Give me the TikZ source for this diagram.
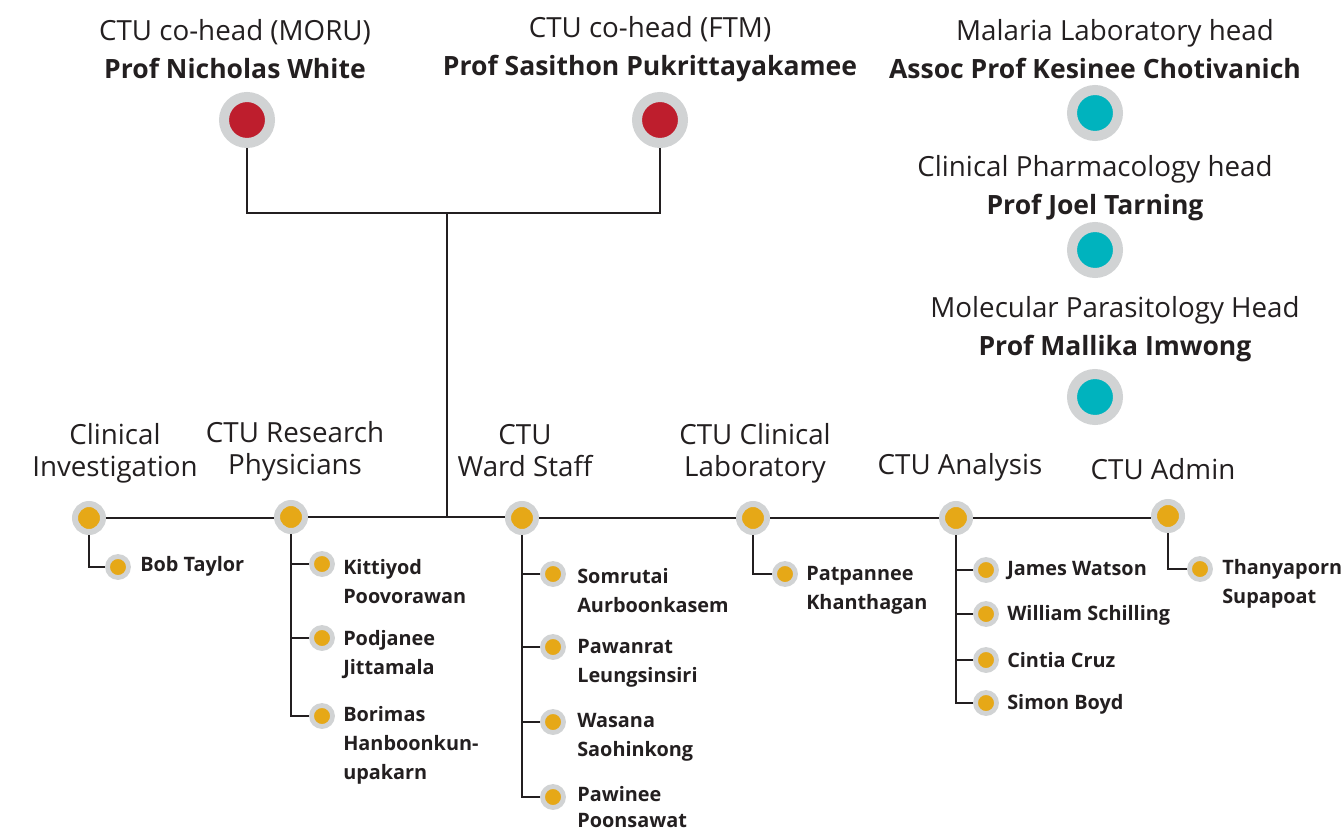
\documentclass[tikz,border=0pt]{standalone}
\usepackage{fontspec}
\setmainfont{Open Sans}
\definecolor{ring}{HTML}{D1D3D4}
\definecolor{headred}{HTML}{BE1E2D}
\definecolor{labteal}{HTML}{00B3BE}
\definecolor{teamgold}{HTML}{E6A817}
\definecolor{wire}{HTML}{231F20}
\newcommand{\leadname}[1]{{\bfseries\fontsize{19.9}{28.5}\selectfont #1}}
\begin{document}
\begin{tikzpicture}[x=0.75pt,y=-0.75pt,
  bigdot/.style={circle,inner sep=0pt,minimum size=34.5pt,draw=ring,line width=7.5pt},
  middot/.style={circle,inner sep=0pt,minimum size=21pt,draw=ring,line width=4.5pt,fill=teamgold},
  smalldot/.style={circle,inner sep=0pt,minimum size=15.75pt,draw=ring,line width=3.6pt,fill=teamgold},
  headtext/.style={align=center,inner sep=0pt,text=wire,font=\fontsize{20.8}{28.5}\selectfont},
  grouptext/.style={align=center,inner sep=0pt,text=wire,font=\fontsize{20.8}{24}\selectfont},
  nametext/.style={anchor=west,align=left,inner sep=0pt,text=wire,font=\bfseries\fontsize{14.9}{21.75}\selectfont},
  link/.style={draw=wire,line width=2.2pt}]
\useasboundingbox (0,0) rectangle (1344,834);

% leadership
\node[headtext] (t1) at (235,49) {CTU co-head (MORU)\\\leadname{Prof Nicholas White}};
\node[headtext] (t2) at (650,49) {CTU co-head (FTM)\\\leadname{Prof Sasithon Pukrittayakamee}};
\node[headtext] (t3) at (1095,49) {\hspace*{30pt}Malaria Laboratory head\\\leadname{Assoc Prof Kesinee Chotivanich}};
\node[headtext] (t4) at (1095,188.5) {Clinical Pharmacology head\\\leadname{Prof Joel Tarning}};
\node[headtext] (t5) at (1115,329) {Molecular Parasitology Head\\\leadname{Prof Mallika Imwong}};

\node[bigdot,fill=headred] (nw) at (247,120) {};
\node[bigdot,fill=headred] (sp) at (660,120) {};
\node[bigdot,fill=labteal] (kc) at (1095,113) {};
\node[bigdot,fill=labteal] (jt) at (1095,250) {};
\node[bigdot,fill=labteal] (mi) at (1095,397) {};

% teams
\node[grouptext] (g1) at (115,453) {Clinical\\Investigation};
\node[grouptext] (g2) at (295,451.5) {CTU Research\\Physicians};
\node[grouptext] (g3) at (525,450.5) {CTU\\Ward Staff};
\node[grouptext] (g4) at (755,453.5) {CTU Clinical\\Laboratory};
\node[grouptext] (g5) at (960,467) {CTU Analysis};
\node[grouptext] (g6) at (1163,469) {CTU Admin};

\node[middot] (ci) at (89,518) {};
\node[middot] (rp) at (291,517) {};
\node[middot] (ws) at (522,518) {};
\node[middot] (cl) at (753,518) {};
\node[middot] (an) at (956,518) {};
\node[middot] (ad) at (1168,516) {};

% staff
\node[smalldot] (p1) at (118,567) {};
\node[nametext] (n1) at (140,566) {Bob Taylor};

\node[smalldot] (p2) at (322,564) {};
\node[smalldot] (p3) at (322,638) {};
\node[smalldot] (p4) at (322,716) {};
\node[nametext] (n2) at (343,582) {Kittiyod\\Poovorawan};
\node[nametext] (n3) at (343,655) {Podjanee\\Jittamala};
\node[nametext] (n4) at (343,745) {Borimas\\Hanboonkun-\\upakarn};

\node[smalldot] (p5) at (553,574) {};
\node[smalldot] (p6) at (553,647) {};
\node[smalldot] (p7) at (553,722) {};
\node[smalldot] (p8) at (553,797) {};
\node[nametext] (n5) at (577,590.5) {Somrutai\\Aurboonkasem};
\node[nametext] (n6) at (577,663.5) {Pawanrat\\Leungsinsiri};
\node[nametext] (n7) at (577,737) {Wasana\\Saohinkong};
\node[nametext,font=\bfseries\fontsize{14.9}{20}\selectfont] (n8) at (577,807) {Pawinee\\Poonsawat};

\node[smalldot] (p9) at (785,574) {};
\node[nametext] (n9) at (806,590.5) {Patpannee\\Khanthagan};

\node[smalldot] (p10) at (986,570) {};
\node[smalldot] (p11) at (986,614) {};
\node[smalldot] (p12) at (986,660) {};
\node[smalldot] (p13) at (986,703) {};
\node[nametext] (n10) at (1007,570) {James Watson};
\node[nametext] (n11) at (1007,615) {William Schilling};
\node[nametext] (n12) at (1007,660) {Cintia Cruz};
\node[nametext] (n13) at (1007,704) {Simon Boyd};

\node[smalldot] (p14) at (1200,569) {};
\node[nametext] (n14) at (1222,584) {Thanyaporn\\Supapoat};

% connectors
\coordinate (join) at (447,213);
\coordinate (bus) at (447,517);
\draw[link] (nw.south) |- (join) -| (sp.south);
\draw[link] (join) -- (bus);
\draw[link] (ci.east) -- (ci.east -| rp.west);
\draw[link] (rp.east) -- (rp.east -| ws.west);
\draw[link] (ws.east) -- (cl.west);
\draw[link] (cl.east) -- (an.west);
\draw[link] (an.east) -- (an.east -| ad.west);

\draw[link] (ci.south) |- (p1.west);
\draw[link] (rp.south) |- (p4.west);
\draw[link] (rp.south |- p2) -- (p2.west);
\draw[link] (rp.south |- p3) -- (p3.west);
\draw[link] (ws.south) |- (p8.west);
\draw[link] (ws.south |- p5) -- (p5.west);
\draw[link] (ws.south |- p6) -- (p6.west);
\draw[link] (ws.south |- p7) -- (p7.west);
\draw[link] (cl.south) |- (p9.west);
\draw[link] (an.south) |- (p13.west);
\draw[link] (an.south |- p10) -- (p10.west);
\draw[link] (an.south |- p11) -- (p11.west);
\draw[link] (an.south |- p12) -- (p12.west);
\draw[link] (ad.south) |- (p14.west);
\end{tikzpicture}
\end{document}
